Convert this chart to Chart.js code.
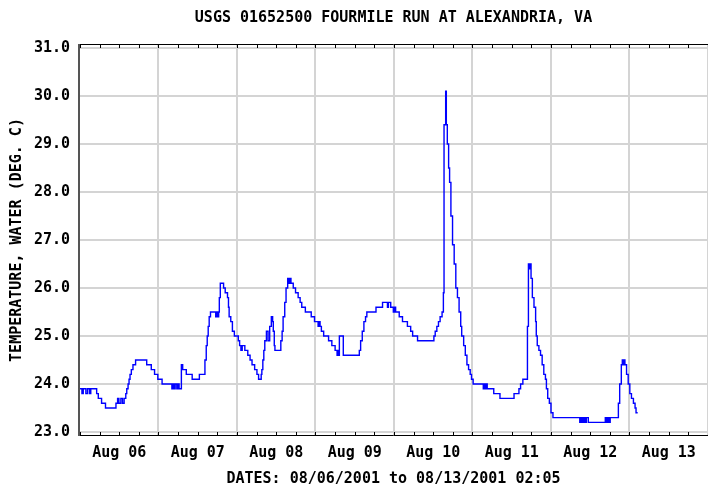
<!DOCTYPE html>
<html><head><meta charset="utf-8">
<script src="https://cdn.jsdelivr.net/npm/chart.js@4/dist/chart.umd.min.js"></script>
<style>html,body{margin:0;padding:0;background:#fff;overflow:hidden;width:708px;height:485px}canvas{display:block}</style>
</head><body>
<canvas id="c" width="716" height="485"></canvas>
<script>
const chartTitle = "USGS 01652500 FOURMILE RUN AT ALEXANDRIA, VA";
const yAxisTitle = "TEMPERATURE, WATER (DEG. C)";
const xAxisTitle = "DATES: 08/06/2001 to 08/13/2001 02:05";
const xTickLabels = ["Aug 06","Aug 07","Aug 08","Aug 09","Aug 10","Aug 11","Aug 12","Aug 13"];
const yTickValues = [23,24,25,26,27,28,29,30,31];
const yTickLabels = ["23.0","24.0","25.0","26.0","27.0","28.0","29.0","30.0","31.0"];
// hours since 08/06/2001 00:00, value holds until the next reading
const hours = [0.0,0.6,1.0,1.8,2.3,2.9,3.3,5.1,5.6,6.6,7.8,11.0,11.5,11.9,12.5,13.0,13.5,14.0,14.3,14.7,15.0,15.3,15.7,16.2,17.0,20.4,21.8,22.8,23.8,25.1,
28.1,28.4,28.7,29.1,29.6,30.0,30.3,31.0,31.4,32.5,34.3,36.5,38.2,38.6,38.9,39.2,39.5,39.9,41.5,41.8,42.1,42.4,42.6,42.9,43.9,44.4,45.1,45.4,45.6,46.1,46.6,47.2,
48.4,48.8,49.2,49.6,50.4,51.3,52.0,52.6,53.4,54.1,54.6,55.4,55.6,55.9,56.2,56.5,57.0,57.5,58.0,58.5,58.9,59.1,59.4,59.6,61.4,61.8,62.1,62.6,63.0,63.5,63.9,64.3,64.5,
65.2,65.9,66.7,67.3,67.8,68.9,70.7,71.7,72.8,73.2,73.4,73.8,74.5,76.0,77.0,78.0,78.6,78.9,79.1,79.3,80.5,85.4,85.8,86.3,86.8,87.3,87.7,90.5,92.5,94.0,94.3,95.0,95.8,96.2,96.5,
97.6,98.6,100.1,101.1,101.7,103.2,108.2,108.6,109.1,109.6,110.1,110.7,111.1,111.3,111.8,112.0,112.3,112.7,113.0,113.4,113.9,114.4,114.9,115.4,115.9,116.4,116.7,117.3,117.8,118.3,118.8,119.3,119.7,120.2,
123.3,123.6,123.9,124.2,124.5,126.5,128.4,132.7,134.2,134.7,135.4,136.8,137.1,137.4,137.6,137.9,138.3,138.8,139.3,139.5,139.8,140.3,140.8,141.3,141.8,142.3,142.6,143.0,143.5,144.0,144.6,
152.8,153.2,153.6,154.0,154.4,154.8,155.4,160.6,161.0,161.4,161.8,162.1,164.6,165.0,165.5,165.8,166.1,166.3,166.6,167.1,167.6,168.1,168.6,169.2,169.7,170.0,170.5];
const tempC = [23.9,23.8,23.9,23.8,23.9,23.8,23.9,23.8,23.7,23.6,23.5,23.6,23.7,23.6,23.7,23.6,23.7,23.8,23.9,24.0,24.1,24.2,24.3,24.4,24.5,24.4,24.3,24.2,24.1,24.0,
23.9,24.0,23.9,24.0,23.9,24.0,23.9,24.4,24.3,24.2,24.1,24.2,24.5,24.8,25.0,25.2,25.4,25.5,25.4,25.5,25.4,25.5,25.8,26.1,26.0,25.9,25.8,25.6,25.4,25.3,25.1,25.0,
24.9,24.8,24.7,24.8,24.7,24.6,24.5,24.4,24.3,24.2,24.1,24.2,24.3,24.5,24.7,24.9,25.1,24.9,25.2,25.4,25.3,25.1,24.8,24.7,24.9,25.1,25.4,25.7,26.0,26.2,26.1,26.2,26.1,
26.0,25.9,25.8,25.7,25.6,25.5,25.4,25.3,25.2,25.3,25.2,25.1,25.0,24.9,24.8,24.7,24.6,24.7,24.6,25.0,24.6,24.7,24.9,25.1,25.3,25.4,25.5,25.6,25.7,25.6,25.7,25.6,25.5,25.6,25.5,
25.4,25.3,25.2,25.1,25.0,24.9,25.0,25.1,25.2,25.3,25.4,25.5,25.9,29.4,30.1,29.4,29.0,28.5,28.2,27.5,26.9,26.5,26.0,25.8,25.5,25.2,25.0,24.8,24.6,24.4,24.3,24.2,24.1,24.0,
23.9,24.0,23.9,24.0,23.9,23.8,23.7,23.8,23.9,24.0,24.1,25.2,26.5,26.4,26.5,26.2,25.8,25.6,25.3,25.0,24.8,24.7,24.6,24.4,24.2,24.1,23.9,23.7,23.6,23.4,23.3,
23.2,23.3,23.2,23.3,23.2,23.3,23.2,23.3,23.2,23.3,23.2,23.3,23.6,24.0,24.4,24.5,24.4,24.5,24.4,24.2,24.0,23.8,23.7,23.6,23.5,23.4,23.4];

const FONT = "'DejaVu Sans Mono', monospace";
Chart.defaults.font.family = FONT;
Chart.defaults.font.size = 15;
Chart.defaults.font.weight = 'bold';
Chart.defaults.color = '#000';

const frame = {
  id: 'frame',
  afterDatasetsDraw(chart) {
    const {ctx, chartArea: a} = chart;
    const xs = chart.scales.x;
    ctx.save();
    ctx.strokeStyle = '#000';
    ctx.lineWidth = 1;
    ctx.beginPath();
    ctx.moveTo(a.left, a.top + 0.5); ctx.lineTo(a.right, a.top + 0.5);
    ctx.moveTo(a.left, a.bottom - 0.5); ctx.lineTo(a.right, a.bottom - 0.5);
    xs.ticks.forEach(t => {
      const x = Math.round(xs.getPixelForValue(t.value)) + 0.5;
      ctx.moveTo(x, a.top); ctx.lineTo(x, a.top + 4);
      ctx.moveTo(x, a.bottom); ctx.lineTo(x, a.bottom - 4);
    });
    ctx.stroke();
    ctx.strokeStyle = '#555';
    ctx.lineWidth = 2;
    ctx.beginPath();
    ctx.moveTo(a.left, a.top); ctx.lineTo(a.left, a.bottom);
    ctx.stroke();
    ctx.restore();
  }
};

new Chart(document.getElementById('c'), {
  type: 'line',
  data: {
    datasets: [{
      data: hours.map((h, i) => ({x: h, y: tempC[i]})),
      borderColor: '#0000ff',
      borderWidth: 1.4,
      pointRadius: 0,
      stepped: 'before',
      fill: false
    }]
  },
  options: {
    responsive: false,
    animation: false,
    layout: {padding: {left: 0, right: 4, top: 0, bottom: 0}},
    plugins: {legend: {display: false}, tooltip: {enabled: false}, title: {display: false}},
    scales: {
      x: {
        type: 'linear', position: 'bottom', min: -0.3, max: 192,
        afterBuildTicks: s => { const t = []; for (let v = 0; v <= 192; v += 6) t.push({value: v}); s.ticks = t; },
        afterFit: s => { s.height = 49; },
        ticks: {autoSkip: false, maxRotation: 0, minRotation: 0, padding: 8,
          callback: v => (v % 24 === 12 ? xTickLabels[(v - 12) / 24] : '')},
        grid: {drawTicks: false, lineWidth: 2,
          color: c => (c.tick && c.tick.value % 24 === 0 && c.tick.value > 0 ? '#d4d4d4' : 'rgba(0,0,0,0)')},
        border: {display: false},
        title: {display: true, text: xAxisTitle, padding: {top: 0, bottom: -3}}
      },
      xTop: {
        type: 'linear', position: 'top', min: -0.3, max: 192,
        afterFit: s => { s.height = 44; },
        ticks: {display: false},
        grid: {display: false},
        border: {display: false},
        title: {display: true, text: chartTitle, padding: {top: 9, bottom: 0}}
      },
      y: {
        type: 'linear', min: 22.9167, max: 31.0833,
        afterBuildTicks: s => { s.ticks = yTickValues.map(v => ({value: v})); },
        afterFit: s => { s.width = 79; },
        ticks: {padding: 9, callback: v => yTickLabels[yTickValues.indexOf(v)]},
        grid: {drawTicks: false, lineWidth: 2, color: '#d4d4d4'},
        border: {display: false},
        title: {display: true, text: yAxisTitle, padding: {top: 8, bottom: 0}}
      }
    }
  },
  plugins: [frame]
});
</script>
</body></html>
